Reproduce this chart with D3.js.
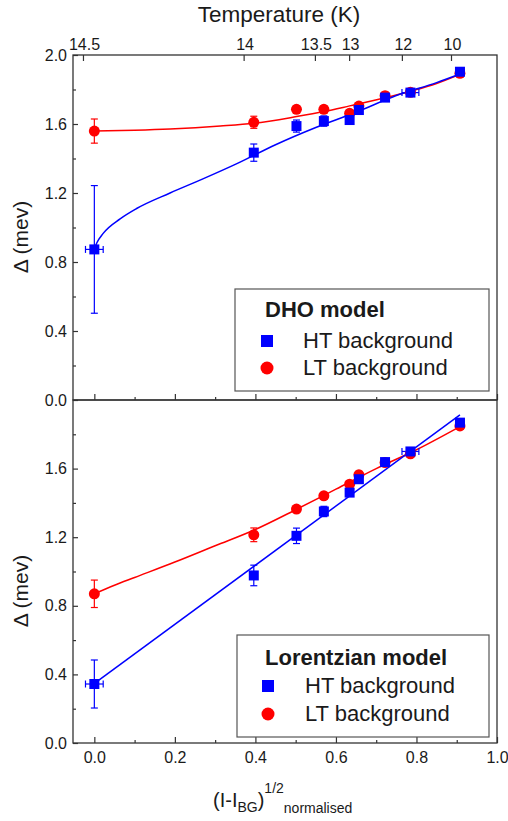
<!DOCTYPE html>
<html>
<head>
<meta charset="utf-8">
<script src="https://cdn.jsdelivr.net/npm/d3@7"></script>
<style>
  body { margin: 0; background: #fff; }
  svg { display: block; }
  text { font-family: "Liberation Sans", Arial, sans-serif; fill: #1a1a1a; }
</style>
</head>
<body>
<svg id="chart" width="508" height="821"></svg>
<script>
// ---- data -------------------------------------------------------------
// normalised (I - I_BG)^1/2 of each measurement
const xValues = [0, 0.396, 0.502, 0.570, 0.634, 0.657, 0.722, 0.785, 0.908];

// DHO model
const dhoHT      = [0.873, 1.434, 1.588, 1.617, 1.623, 1.681, 1.753, 1.782, 1.903];
const dhoHTErr   = [0.37, 0.05, 0.035, 0.03, 0.02, 0.02, 0.02, 0.02, 0.02];
const dhoHTxErr  = [0.022, 0, 0, 0, 0, 0, 0, 0.021, 0.01];
const dhoLT      = [1.559, 1.610, 1.685, 1.685, 1.662, 1.704, 1.764, 1.784, 1.894];
const dhoLTErr   = [0.07, 0.035, 0.02, 0.02, 0.02, 0.02, 0.02, 0.02, 0.02];
const dhoHTFitX  = [0, 0.006, 0.022, 0.064, 0.105, 0.188, 0.271, 0.354, 0.45, 0.55, 0.65, 0.75, 0.85, 0.908];
const dhoHTFitY  = [0.875, 0.91, 0.966, 1.05, 1.11, 1.2, 1.283, 1.37, 1.48, 1.58, 1.668, 1.765, 1.84, 1.89];
const dhoLTFitX  = [0, 0.1, 0.188, 0.313, 0.396, 0.502, 0.57, 0.634, 0.722, 0.785, 0.85, 0.908];
const dhoLTFitY  = [1.559, 1.564, 1.571, 1.588, 1.604, 1.643, 1.672, 1.705, 1.752, 1.79, 1.835, 1.888];

// Lorentzian model
const lorHT      = [0.344, 0.977, 1.208, 1.350, 1.460, 1.538, 1.638, 1.700, 1.868];
const lorHTErr   = [0.14, 0.06, 0.045, 0.03, 0.02, 0.02, 0.02, 0.02, 0.02];
const lorHTxErr  = [0.022, 0, 0, 0, 0, 0, 0, 0.021, 0.01];
const lorLT      = [0.870, 1.214, 1.364, 1.441, 1.509, 1.564, 1.635, 1.686, 1.849];
const lorLTErr   = [0.08, 0.04, 0.02, 0.02, 0.02, 0.02, 0.02, 0.02, 0.02];
const lorHTFitX  = [0.002, 0.908];
const lorHTFitY  = [0.35, 1.913];
const lorLTFitX  = [0, 0.05, 0.1, 0.2, 0.3, 0.4, 0.5, 0.6, 0.7, 0.8, 0.908];
const lorLTFitY  = [0.87, 0.92, 0.965, 1.055, 1.15, 1.245, 1.36, 1.48, 1.60, 1.71, 1.845];

// top axis: temperature labels and where they sit on the x axis
const tempLabels    = ["14.5", "14", "13.5", "13", "12", "10"];
const tempPositions = [-0.027, 0.372, 0.549, 0.634, 0.765, 0.887];

const xTicks      = [0, 0.2, 0.4, 0.6, 0.8, 1.0];
const xMinorTicks = [0.1, 0.3, 0.5, 0.7, 0.9];
const yTicks      = [0, 0.4, 0.8, 1.2, 1.6, 2.0];
const yMinorTicks = [0.2, 0.6, 1.0, 1.4, 1.8];

const legendLabels = ["HT background", "LT background"];
const BLUE = "#0000ff", RED = "#ff0000", AXIS = "#333";

// ---- layout -----------------------------------------------------------
const svg = d3.select("#chart");
const left = 73, right = 497;
const x = d3.scaleLinear().domain([-0.053, 1.0]).range([left, right]);

const panels = [
  { top: 55, bottom: 400, title: "DHO model", yLabels: yTicks,
    ht: dhoHT, htErr: dhoHTErr, htxErr: dhoHTxErr, lt: dhoLT, ltErr: dhoLTErr,
    htFit: [dhoHTFitX, dhoHTFitY], ltFit: [dhoLTFitX, dhoLTFitY],
    legend: { x: 235, y: 289, w: 254, h: 102, titleY: 317, row1: 341, row2: 368, markX: 267, textX: 303 },
    yTitle: 237 },
  { top: 400, bottom: 743, title: "Lorentzian model", yLabels: yTicks.slice(0, 5),
    ht: lorHT, htErr: lorHTErr, htxErr: lorHTxErr, lt: lorLT, ltErr: lorLTErr,
    htFit: [lorHTFitX, lorHTFitY], ltFit: [lorLTFitX, lorLTFitY],
    legend: { x: 237, y: 635, w: 252, h: 102, titleY: 665, row1: 686, row2: 714, markX: 268, textX: 305 },
    yTitle: 591 }
];

const fmt = d3.format(".1f");

function styleAxis(g) {
  g.select(".domain").remove();
  g.selectAll(".tick line").attr("stroke", AXIS).attr("stroke-width", 1.2);
  g.selectAll(".tick text").attr("font-size", 16).attr("fill", "#1a1a1a")
    .attr("font-family", '"Liberation Sans", Arial, sans-serif');
}

panels.forEach((p, i) => {
  const y = d3.scaleLinear().domain([0, 2]).range([p.bottom, p.top]);
  const g = svg.append("g");

  // left axis: major + minor ticks pointing inwards
  g.append("g").attr("transform", `translate(${left},0)`)
    .call(d3.axisLeft(y).tickValues(p.yLabels).tickFormat(fmt).tickSize(-5).tickPadding(6))
    .call(styleAxis);
  g.append("g").attr("transform", `translate(${left},0)`)
    .call(d3.axisLeft(y).tickValues(yMinorTicks).tickFormat("").tickSize(-3))
    .call(styleAxis);

  // bottom edge ticks pointing up into the panel
  const bottomAxis = d3.axisBottom(x).tickValues(xTicks).tickSize(-6).tickPadding(9)
    .tickFormat(i === 1 ? fmt : "");
  g.append("g").attr("transform", `translate(0,${p.bottom})`).call(bottomAxis).call(styleAxis);
  g.append("g").attr("transform", `translate(0,${p.bottom})`)
    .call(d3.axisBottom(x).tickValues(xMinorTicks).tickFormat("").tickSize(-3))
    .call(styleAxis);

  // fit curves
  const line = d3.line().x(d => x(d[0])).y(d => y(d[1])).curve(d3.curveMonotoneX);
  [[p.ltFit, RED], [p.htFit, BLUE]].forEach(([fit, col]) => {
    g.append("path").datum(d3.zip(fit[0], fit[1])).attr("d", line)
      .attr("fill", "none").attr("stroke", col).attr("stroke-width", 1.5);
  });

  // error bars
  const cap = 3.5;
  function yErrBars(vals, errs, col) {
    const eg = g.append("g").attr("stroke", col).attr("stroke-width", 1.2);
    xValues.forEach((xv, k) => {
      const cx = x(xv), y1 = y(vals[k] - errs[k]), y2 = y(vals[k] + errs[k]);
      eg.append("line").attr("x1", cx).attr("x2", cx).attr("y1", y1).attr("y2", y2);
      eg.append("line").attr("x1", cx - cap).attr("x2", cx + cap).attr("y1", y1).attr("y2", y1);
      eg.append("line").attr("x1", cx - cap).attr("x2", cx + cap).attr("y1", y2).attr("y2", y2);
    });
  }
  function xErrBars(vals, errs, col) {
    const eg = g.append("g").attr("stroke", col).attr("stroke-width", 1.2);
    xValues.forEach((xv, k) => {
      if (!errs[k]) return;
      const cy = y(vals[k]), x1 = x(xv - errs[k]), x2 = x(xv + errs[k]);
      eg.append("line").attr("x1", x1).attr("x2", x2).attr("y1", cy).attr("y2", cy);
      eg.append("line").attr("x1", x1).attr("x2", x1).attr("y1", cy - cap).attr("y2", cy + cap);
      eg.append("line").attr("x1", x2).attr("x2", x2).attr("y1", cy - cap).attr("y2", cy + cap);
    });
  }
  yErrBars(p.lt, p.ltErr, RED);
  yErrBars(p.ht, p.htErr, BLUE);
  xErrBars(p.ht, p.htxErr, BLUE);

  // markers
  g.append("g").selectAll("circle").data(xValues).join("circle")
    .attr("cx", d => x(d)).attr("cy", (d, k) => y(p.lt[k])).attr("r", 5.5).attr("fill", RED);
  g.append("g").selectAll("rect").data(xValues).join("rect")
    .attr("x", d => x(d) - 5).attr("y", (d, k) => y(p.ht[k]) - 5)
    .attr("width", 10).attr("height", 10).attr("fill", BLUE);

  // frame
  g.append("rect").attr("x", left).attr("y", p.top).attr("width", right - left)
    .attr("height", p.bottom - p.top).attr("fill", "none").attr("stroke", AXIS).attr("stroke-width", 1.3);

  // legend
  const L = p.legend;
  const lg = svg.append("g");
  lg.append("rect").attr("x", L.x).attr("y", L.y).attr("width", L.w).attr("height", L.h)
    .attr("fill", "#fff").attr("stroke", "#555").attr("stroke-width", 1.2);
  lg.append("text").attr("x", 265).attr("y", L.titleY).attr("font-size", 22)
    .attr("font-weight", "bold").text(p.title);
  lg.append("rect").attr("x", L.markX - 6).attr("y", L.row1 - 6).attr("width", 12).attr("height", 12).attr("fill", BLUE);
  lg.append("circle").attr("cx", L.markX).attr("cy", L.row2).attr("r", 6.5).attr("fill", RED);
  lg.append("text").attr("x", L.textX).attr("y", L.row1 + 7).attr("font-size", 22).text(legendLabels[0]);
  lg.append("text").attr("x", L.textX).attr("y", L.row2 + 7).attr("font-size", 22).text(legendLabels[1]);

  // y title
  svg.append("text").attr("transform", `translate(28,${p.yTitle}) rotate(-90)`)
    .attr("text-anchor", "middle").attr("font-size", 21).text("Δ (mev)");
});

// top temperature axis
const topG = svg.append("g");
tempPositions.forEach((pos, k) => {
  topG.append("line").attr("x1", x(pos)).attr("x2", x(pos)).attr("y1", 55).attr("y2", 61)
    .attr("stroke", AXIS).attr("stroke-width", 1.2);
  topG.append("text").attr("x", x(pos) + 1).attr("y", 50).attr("text-anchor", "middle")
    .attr("font-size", 16).text(tempLabels[k]);
});
svg.append("text").attr("x", 279).attr("y", 22).attr("text-anchor", "middle")
  .attr("font-size", 22.5).text("Temperature (K)");

// x title: (I-I_BG)^1/2 normalised
const xt = svg.append("text").attr("x", 213).attr("y", 807).attr("font-size", 20);
xt.append("tspan").text("(I-I");
xt.append("tspan").attr("font-size", 14).attr("dy", 5).text("BG");
xt.append("tspan").attr("dy", -5).text(")");
xt.append("tspan").attr("font-size", 14).attr("dy", -14).text("1/2");
xt.append("tspan").attr("font-size", 14).attr("dy", 20).text("normalised");
</script>
</body>
</html>
